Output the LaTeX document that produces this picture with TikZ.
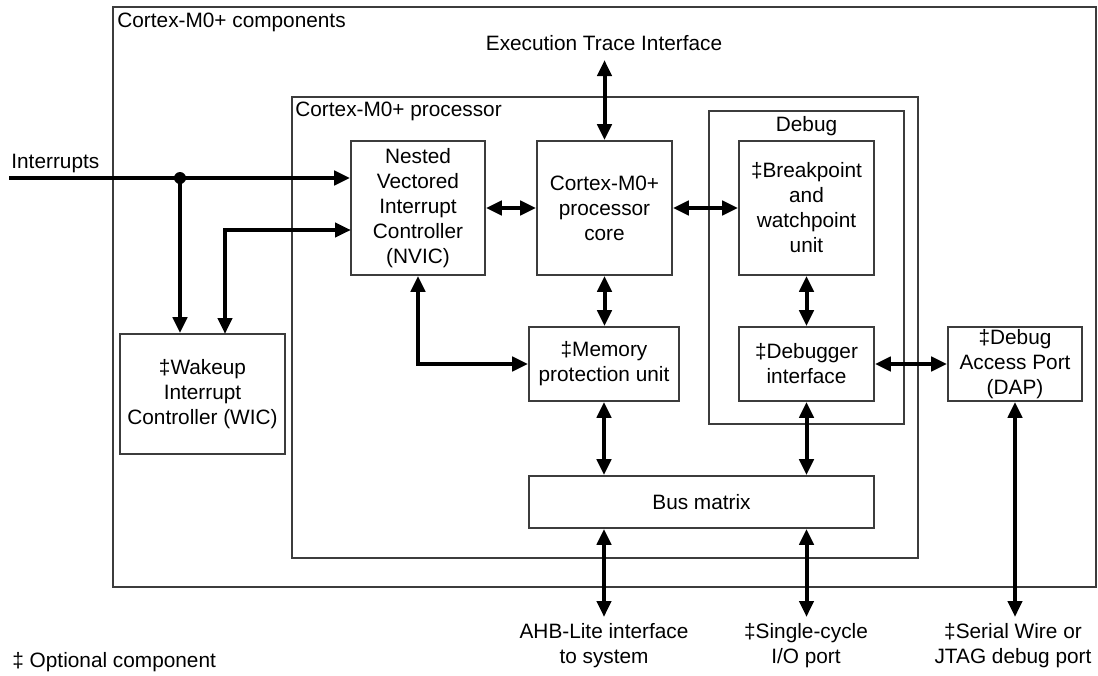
\documentclass[tikz,border=0pt]{standalone}
\usepackage{fontspec}
\setmainfont{Liberation Sans}
\usetikzlibrary{arrows.meta}
\definecolor{boxline}{HTML}{3C3C3C}
\begin{document}
\begin{tikzpicture}[x=0.5pt,y=-0.5pt,
  every node/.style={font=\fontsize{10.4}{12.5}\selectfont, inner sep=0pt, align=center},
  blk/.style={draw=boxline, line width=0.8pt},
  tip/.tip={Triangle[length=8pt,width=7pt]},
  biarrow/.style={line width=2pt, tip-tip},
  onearrow/.style={line width=2pt, -tip},
]
\useasboundingbox (0,0) rectangle (1098,675);

% containers
\node[blk, minimum width=491.5pt, minimum height=290pt] (outer) at (604.5,297) {};
\node[blk, minimum width=313pt, minimum height=230.5pt] (proc) at (605,327.5) {};
\node[blk, minimum width=97.5pt, minimum height=156.5pt] (debug) at (806.5,267.5) {};
\node[anchor=west] (outerlbl) at (117,22) {Cortex-M0+ components};
\node[anchor=west] (proclbl) at (295,111) {Cortex-M0+ processor};
\node (debuglbl) at (806.5,126) {Debug};

% blocks
\node[blk, minimum width=67pt, minimum height=67pt] (nvic) at (418,208) {Nested\\Vectored\\Interrupt\\Controller\\(NVIC)};
\node[blk, minimum width=67.5pt, minimum height=67pt] (core) at (604.5,208) {Cortex-M0+\\processor\\core};
\node[blk, minimum width=67.5pt, minimum height=67pt] (bp) at (806.5,208) {‡Breakpoint\\and\\watchpoint\\unit};
\node[blk, minimum width=75pt, minimum height=37pt] (mpu) at (604,364) {‡Memory\\protection unit};
\node[blk, minimum width=67.5pt, minimum height=37pt] (dbgi) at (806.5,364) {‡Debugger\\interface};
\node[blk, minimum width=67pt, minimum height=37pt] (dap) at (1015,364) {‡Debug\\Access Port\\(DAP)};
\node[blk, minimum width=172.5pt, minimum height=26pt] (bus) at (701.5,502) {Bus matrix};
\node[blk, minimum width=82.5pt, minimum height=60pt] (wic) at (202.5,394) {‡Wakeup\\Interrupt\\Controller (WIC)};

% outside labels
\node (trace) at (604,43) {Execution Trace Interface};
\node[anchor=west] (intlbl) at (11,163) {Interrupts};
\node (ahb) at (604,646) {AHB-Lite interface\\to system};
\node (sio) at (806,646) {‡Single-cycle\\I/O port};
\node (swj) at (1013,646) {‡Serial Wire or\\JTAG debug port};
\node[anchor=west] (note) at (12,662) {‡ Optional component};

% coordinates
\coordinate (trtop) at (604.5,60);
\coordinate (ahbend) at (604,617);
\coordinate (sioend) at (806.5,617);
\coordinate (swjend) at (1015,617);
\coordinate (intstart) at (9,178);
\coordinate (junc) at (180,178);
\coordinate (wk) at (225,334);
\coordinate (nv2) at (351,230);

% connectors
\draw[biarrow] (trtop) -- (core.north);
\draw[biarrow] (nvic.east) -- (core.west);
\draw[biarrow] (core.east) -- (bp.west);
\draw[biarrow] (core.south) -- (core.south |- mpu.north);
\draw[biarrow] (bp.south) -- (dbgi.north);
\draw[biarrow] (mpu.south) -- (mpu.south |- bus.north);
\draw[biarrow] (dbgi.south) -- (dbgi.south |- bus.north);
\draw[biarrow] (dbgi.east) -- (dap.west);
\draw[biarrow] (mpu.south |- bus.south) -- (ahbend);
\draw[biarrow] (dbgi.south |- bus.south) -- (sioend);
\draw[biarrow] (dap.south) -- (swjend);
\draw[biarrow] (nvic.south) |- (mpu.west);
\draw[onearrow] (intstart) -- (intstart -| nvic.west);
\draw[onearrow] (junc) -- (junc |- wic.north);
\draw[biarrow] (wk) |- (nv2);
\fill (junc) circle (3pt);
\end{tikzpicture}
\end{document}
